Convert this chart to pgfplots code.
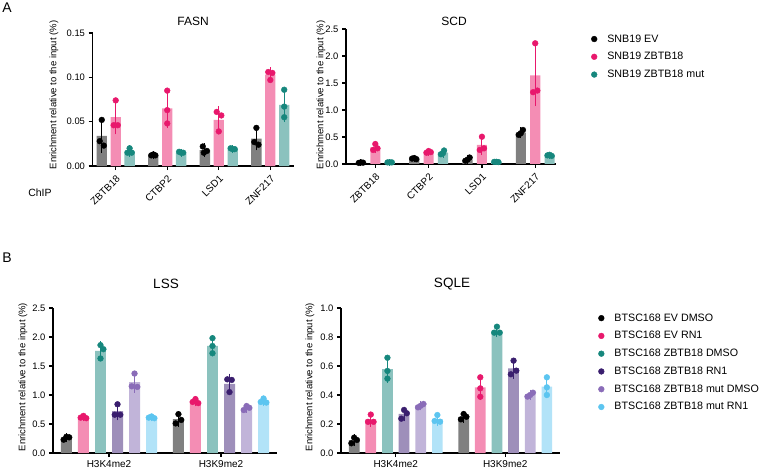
\documentclass[border=0pt]{standalone}
\usepackage{fontspec}
\setmainfont{Liberation Sans}
\usepackage{pgfplots}
\pgfplotsset{compat=1.18}

\definecolor{dotBlack}{RGB}{0,0,0}
\definecolor{barGrey}{RGB}{128,128,128}
\definecolor{dotPink}{RGB}{232,24,108}
\definecolor{barPink}{RGB}{244,141,180}
\definecolor{dotTeal}{RGB}{22,135,125}
\definecolor{barTeal}{RGB}{139,194,190}
\definecolor{dotDPurp}{RGB}{58,30,110}
\definecolor{barDPurp}{RGB}{158,143,186}
\definecolor{dotLPurp}{RGB}{138,108,184}
\definecolor{barLPurp}{RGB}{193,180,217}
\definecolor{dotBlue}{RGB}{92,197,240}
\definecolor{barBlue}{RGB}{178,227,248}

\pgfplotsset{
  gp/.style={
    scale only axis,
    axis x line*=bottom, axis y line*=left,
    axis line style={line width=1.4pt},
    tick style={line width=1.2pt, black},
    tick align=outside, major tick length=4pt,
    ymin=0, clip=false,
    yticklabel style={font=\fontsize{9.4}{11}\selectfont},
    xticklabel style={font=\fontsize{10}{12}\selectfont},
    /pgf/number format/assume math mode=true,
    yticklabel style={/pgf/number format/.cd, fixed, fixed zerofill, precision=1},
    legend cell align=left,
    legend image code/.code={\fill[##1] (0pt,0pt) circle (2.9pt);},
  },
  bars/.style 2 args={ybar, bar shift=0pt, fill=#1, draw=none, forget plot,
    error bars/.cd, y dir=both, y explicit,
    error bar style={#2, line width=1pt},
    error mark options={#2, mark size=3pt, line width=1pt}},
  dots/.style={only marks, mark=*, mark size=2.9pt, color=#1},
  gplegend/.style={legend style={at={#1}, anchor=north west,
    draw=none, fill=none, font=\fontsize{10.7}{12}\selectfont, row sep=4.8pt,
    /tikz/every odd column/.append style={column sep=8pt}}},
}

\begin{document}
\begin{tikzpicture}
\path[use as bounding box] (0pt,0pt) rectangle (762pt,472pt);

% ---------------- A: FASN
\begin{axis}[gp, at={(92.5pt,306pt)}, anchor=south west, width=201pt, height=133pt,
  xmin=-0.45, xmax=3.45, ymax=0.15, bar width=0.2,
  ytick={0,0.05,0.10,0.15},
  yticklabel style={/pgf/number format/.cd, fixed, fixed zerofill, precision=2},
  xtick={0,1,2,3}, xticklabels={ZBTB18,CTBP2,LSD1,ZNF217},
  xticklabel style={rotate=45, anchor=north east}]
\addplot[bars={barGrey}{black}] coordinates {(-0.27,0.034) +- (0,0.016) (0.73,0.012) +- (0,0.001) (1.73,0.018) +- (0,0.004) (2.73,0.031) +- (0,0.010)};
\addplot[bars={barPink}{dotPink}] coordinates {(0,0.055) +- (0,0.016) (1,0.065) +- (0,0.019) (2,0.052) +- (0,0.012) (3,0.103) +- (0,0.005)};
\addplot[bars={barTeal}{dotTeal}] coordinates {(0.27,0.017) +- (0,0.003) (1.27,0.015) +- (0,0.001) (2.27,0.019) +- (0,0.001) (3.27,0.069) +- (0,0.016)};
\addplot[dots=dotBlack] coordinates {(-0.27,0.052) (-0.31,0.028) (-0.23,0.023) (0.69,0.012) (0.73,0.013) (0.77,0.012) (1.69,0.022) (1.77,0.017) (1.71,0.015) (2.73,0.043) (2.69,0.027) (2.77,0.024)};
\addplot[dots=dotPink] coordinates {(0,0.074) (-0.04,0.046) (0.04,0.046) (1,0.085) (1,0.063) (1,0.048) (1.96,0.061) (2.05,0.057) (2,0.039) (2.96,0.106) (3.04,0.105) (3,0.097)};
\addplot[dots=dotTeal] coordinates {(0.27,0.020) (0.23,0.015) (0.31,0.015) (1.23,0.016) (1.27,0.015) (1.31,0.015) (2.23,0.020) (2.27,0.019) (2.31,0.019) (3.27,0.086) (3.27,0.067) (3.27,0.055)};
\end{axis}

% ---------------- A: SCD
\begin{axis}[gp, at={(346pt,308pt)}, anchor=south west, width=210pt, height=135pt,
  xmin=-0.55, xmax=3.39, ymax=2.5, bar width=0.19,
  ytick={0,0.5,...,2.5},
  xtick={0,1,2,3}, xticklabels={ZBTB18,CTBP2,LSD1,ZNF217},
  xticklabel style={rotate=45, anchor=north east},
  gplegend={(axis description cs:1.152,0.99)}]
\addplot[bars={barGrey}{black}] coordinates {(-0.27,0.025) +- (0,0.005) (0.73,0.10) +- (0,0.01) (1.73,0.087) +- (0,0.031) (2.73,0.58) +- (0,0.046)};
\addplot[bars={barPink}{dotPink}] coordinates {(0,0.307) +- (0,0.057) (1,0.223) +- (0,0.015) (2,0.352) +- (0,0.134) (3,1.642) +- (0,0.514)};
\addplot[bars={barTeal}{dotTeal}] coordinates {(0.27,0.03) +- (0,0.003) (1.27,0.21) +- (0,0.036) (2.27,0.038) +- (0,0.003) (3.27,0.16) +- (0,0.01)};
\addplot[dots=dotBlack] coordinates {(-0.27,0.03) (-0.31,0.02) (-0.23,0.025) (0.69,0.10) (0.73,0.11) (0.77,0.09) (1.77,0.12) (1.73,0.08) (1.69,0.06) (2.77,0.63) (2.73,0.57) (2.69,0.54)};
\addlegendentry{SNB19 EV}
\addplot[dots=dotPink] coordinates {(0,0.37) (0.04,0.29) (-0.04,0.26) (1,0.24) (1.04,0.22) (0.96,0.21) (2,0.505) (2.04,0.29) (1.96,0.26) (3,2.235) (3.04,1.36) (2.96,1.33)};
\addlegendentry{SNB19 ZBTB18}
\addplot[dots=dotTeal] coordinates {(0.23,0.03) (0.27,0.03) (0.31,0.03) (1.29,0.25) (1.27,0.20) (1.23,0.18) (2.23,0.04) (2.27,0.04) (2.31,0.035) (3.27,0.17) (3.23,0.16) (3.31,0.15)};
\addlegendentry{SNB19 ZBTB18 mut}
\end{axis}

% ---------------- B: LSS
\begin{axis}[gp, at={(53pt,19pt)}, anchor=south west, width=224pt, height=145pt,
  xmin=-0.5, xmax=1.5, ymax=2.5, bar width=0.098,
  ytick={0,0.5,...,2.5},
  xtick={0,1}, xticklabels={H3K4me2,H3K9me2}]
\addplot[bars={barGrey}{black}] coordinates {(-0.38,0.26) +- (0,0.026) (0.62,0.583) +- (0,0.081)};
\addplot[bars={barPink}{dotPink}] coordinates {(-0.228,0.617) +- (0,0.021) (0.772,0.89) +- (0,0.036)};
\addplot[bars={barTeal}{dotTeal}] coordinates {(-0.076,1.76) +- (0,0.118) (0.924,1.848) +- (0,0.13)};
\addplot[bars={barDPurp}{dotDPurp}] coordinates {(0.076,0.72) +- (0,0.104) (1.076,1.193) +- (0,0.124)};
\addplot[bars={barLPurp}{dotLPurp}] coordinates {(0.228,1.22) +- (0,0.13) (1.228,0.777) +- (0,0.035)};
\addplot[bars={barBlue}{dotBlue}] coordinates {(0.38,0.613) +- (0,0.015) (1.38,0.897) +- (0,0.038)};
\addplot[dots=dotBlack] coordinates {(-0.38,0.28) (-0.405,0.23) (-0.355,0.27) (0.62,0.67) (0.645,0.57) (0.595,0.51)};
\addplot[dots=dotPink] coordinates {(-0.228,0.64) (-0.253,0.61) (-0.203,0.60) (0.772,0.93) (0.747,0.88) (0.797,0.86)};
\addplot[dots=dotTeal] coordinates {(-0.076,1.86) (-0.05,1.79) (-0.076,1.63) (0.924,1.98) (0.924,1.845) (0.924,1.72)};
\addplot[dots=dotDPurp] coordinates {(0.076,0.84) (0.051,0.66) (0.101,0.66) (1.056,1.27) (1.096,1.26) (1.076,1.05)};
\addplot[dots=dotLPurp] coordinates {(0.228,1.37) (0.203,1.15) (0.253,1.14) (1.203,0.74) (1.228,0.81) (1.253,0.78)};
\addplot[dots=dotBlue] coordinates {(0.38,0.63) (0.355,0.61) (0.405,0.60) (1.38,0.94) (1.355,0.88) (1.405,0.87)};
\end{axis}

% ---------------- B: SQLE
\begin{axis}[gp, at={(341pt,19pt)}, anchor=south west, width=219pt, height=145pt,
  xmin=-0.5, xmax=1.5, ymax=1.0, bar width=0.098,
  ytick={0,0.2,...,1.0},
  xtick={0,1}, xticklabels={H3K4me2,H3K9me2},
  gplegend={(axis description cs:1.16,0.99)}]
\addplot[bars={barGrey}{black}] coordinates {(-0.38,0.088) +- (0,0.02) (0.62,0.25) +- (0,0.019)};
\addplot[bars={barPink}{dotPink}] coordinates {(-0.228,0.232) +- (0,0.029) (0.772,0.452) +- (0,0.067)};
\addplot[bars={barTeal}{dotTeal}] coordinates {(-0.076,0.579) +- (0,0.073) (0.924,0.844) +- (0,0.024)};
\addplot[bars={barDPurp}{dotDPurp}] coordinates {(0.076,0.269) +- (0,0.03) (1.076,0.583) +- (0,0.049)};
\addplot[bars={barLPurp}{dotLPurp}] coordinates {(0.228,0.326) +- (0,0.012) (1.228,0.402) +- (0,0.014)};
\addplot[bars={barBlue}{dotBlue}] coordinates {(0.38,0.233) +- (0,0.025) (1.38,0.458) +- (0,0.061)};
\addplot[dots=dotBlack] coordinates {(-0.38,0.106) (-0.355,0.09) (-0.405,0.067) (0.62,0.269) (0.595,0.232) (0.645,0.25)};
\addlegendentry{BTSC168 EV DMSO}
\addplot[dots=dotPink] coordinates {(-0.228,0.265) (-0.253,0.215) (-0.203,0.215) (0.772,0.522) (0.772,0.446) (0.772,0.388)};
\addlegendentry{BTSC168 EV RN1}
\addplot[dots=dotTeal] coordinates {(-0.076,0.657) (-0.076,0.566) (-0.076,0.513) (0.924,0.871) (0.899,0.83) (0.949,0.83)};
\addlegendentry{BTSC168 ZBTB18 DMSO}
\addplot[dots=dotDPurp] coordinates {(0.076,0.297) (0.101,0.274) (0.051,0.237) (1.076,0.637) (1.101,0.568) (1.051,0.543)};
\addlegendentry{BTSC168 ZBTB18 RN1}
\addplot[dots=dotLPurp] coordinates {(0.203,0.315) (0.228,0.326) (0.253,0.338) (1.203,0.389) (1.228,0.40) (1.253,0.416)};
\addlegendentry{BTSC168 ZBTB18 mut DMSO}
\addplot[dots=dotBlue] coordinates {(0.38,0.262) (0.355,0.221) (0.405,0.216) (1.38,0.522) (1.38,0.453) (1.38,0.40)};
\addlegendentry{BTSC168 ZBTB18 mut RN1}
\end{axis}

% titles, panel letters, axis labels
\node[font=\fontsize{14}{16}\selectfont] at (7pt,464pt) {A};
\node[font=\fontsize{14}{16}\selectfont] at (7pt,214pt) {B};
\node[font=\fontsize{12}{14}\selectfont] at (193pt,451pt) {FASN};
\node[font=\fontsize{12}{14}\selectfont] at (454pt,451pt) {SCD};
\node[font=\fontsize{13.5}{16}\selectfont] at (166pt,188pt) {LSS};
\node[font=\fontsize{13.5}{16}\selectfont] at (452pt,188pt) {SQLE};
\node[font=\fontsize{10.5}{12}\selectfont] at (40pt,279pt) {ChIP};
\node[rotate=90, font=\fontsize{9.5}{11}\selectfont] at (54pt,377pt) {Enrichment relative to the input (\%)};
\node[rotate=90, font=\fontsize{9.5}{11}\selectfont] at (321pt,377pt) {Enrichment relative to the input (\%)};
\node[rotate=90, font=\fontsize{9.5}{11}\selectfont] at (23pt,95pt) {Enrichment relative to the input (\%)};
\node[rotate=90, font=\fontsize{9.5}{11}\selectfont] at (310pt,95pt) {Enrichment relative to the input (\%)};
\end{tikzpicture}
\end{document}
